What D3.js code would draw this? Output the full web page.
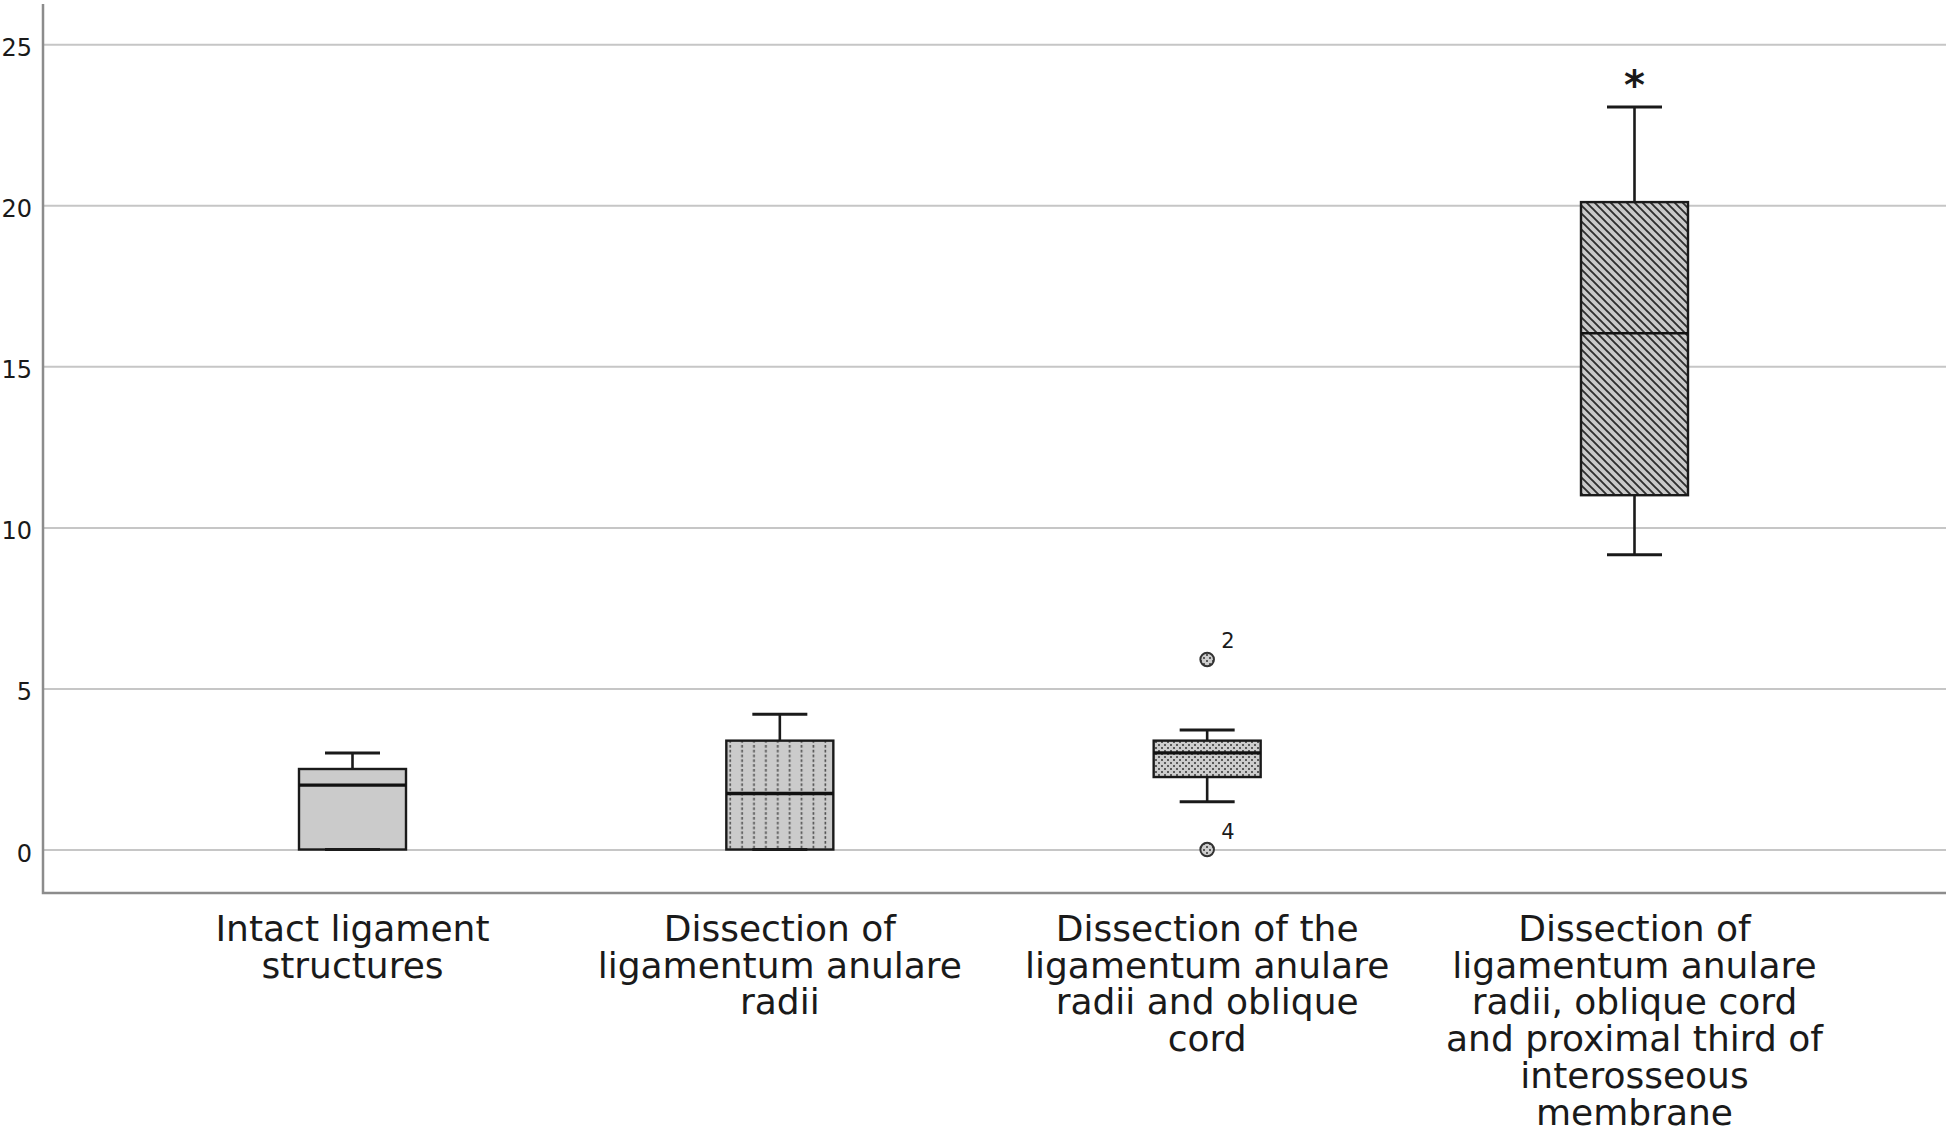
<!DOCTYPE html>
<html>
<head>
<meta charset="utf-8">
<script src="https://cdn.jsdelivr.net/npm/d3@7"></script>
<style>
    body { margin: 0; background: #ffffff; }
    text { font-family: "DejaVu Sans", sans-serif; fill: #1a1a1a; }
</style>
</head>
<body>
<div id="box-plot-container"></div>
<script>
/*
    boxplot of the four ligament dissection stages
 */

// data
var categories = [
    "Intact ligament structures",
    "Dissection of ligamentum anulare radii",
    "Dissection of the ligamentum anulare radii and oblique cord",
    "Dissection of ligamentum anulare radii, oblique cord and proximal third of interosseous membrane"
];

var category_lines = [
    ["Intact ligament", "structures"],
    ["Dissection of", "ligamentum anulare", "radii"],
    ["Dissection of the", "ligamentum anulare", "radii and oblique", "cord"],
    ["Dissection of", "ligamentum anulare", "radii, oblique cord", "and proximal third of", "interosseous", "membrane"]
];

var whisker_low  = [0,   0,    1.48, 9.15];
var q1_values    = [0,   0,    2.25, 11.0];
var median_values= [2.0, 1.74, 3.0,  16.03];
var q3_values    = [2.5, 3.38, 3.38, 20.1];
var whisker_high = [3.0, 4.2,  3.71, 23.05];

// circles = outliers, stars = extremes
var outlier_groups = [2, 2];
var outlier_values = [5.9, 0];
var outlier_labels = ["2", "4"];

var extreme_groups = [3];
var extreme_values = [23.95];

var y_ticks = [0, 5, 10, 15, 20, 25];


var svg_size = {
    'width': 1946,
    'height': 1133
};

var chart_option = {
    'plot': {
        'left': 43,
        'right': 1946,
        'top': 4,
        'bottom': 893
    },
    'first_center': 352.5,
    'last_center': 1634.5,
    'box_width': 107,
    'cap_width': 55,
    'label': {
        'first_baseline': 941,
        'line_height': 36.7,
        'font_size': 36
    }
};

// fill of each group, in order
var box_fills = ['url(#fill-solid)', 'url(#fill-dash)', 'url(#fill-dots)', 'url(#fill-diag)'];

var svg = d3.select("#box-plot-container")
    .append("svg")
    .attr('width', svg_size.width)
    .attr('height', svg_size.height);

// patterns
var defs = svg.append('defs');

var p_solid = defs.append('pattern')
    .attr('id', 'fill-solid')
    .attr('patternUnits', 'userSpaceOnUse')
    .attr('width', 4).attr('height', 4);
p_solid.append('rect').attr('width', 4).attr('height', 4).style('fill', '#cbcbcb');

var p_dash = defs.append('pattern')
    .attr('id', 'fill-dash')
    .attr('patternUnits', 'userSpaceOnUse')
    .attr('x', 3)
    .attr('width', 11.9).attr('height', 4.8);
p_dash.append('rect').attr('width', 11.9).attr('height', 4.8).style('fill', '#cbcbcb');
p_dash.append('rect').attr('x', 0.5).attr('y', 1).attr('width', 1.6).attr('height', 2.6).style('fill', '#4a4a4a');

var p_dots = defs.append('pattern')
    .attr('id', 'fill-dots')
    .attr('patternUnits', 'userSpaceOnUse')
    .attr('width', 6).attr('height', 6);
p_dots.append('rect').attr('width', 6).attr('height', 6).style('fill', '#cdcdcd');
p_dots.append('rect').attr('x', 0).attr('y', 0).attr('width', 2).attr('height', 2).style('fill', '#5a5a5a');
p_dots.append('rect').attr('x', 3).attr('y', 3).attr('width', 2).attr('height', 2).style('fill', '#5a5a5a');

var p_diag = defs.append('pattern')
    .attr('id', 'fill-diag')
    .attr('patternUnits', 'userSpaceOnUse')
    .attr('width', 8).attr('height', 8);
p_diag.append('rect').attr('width', 8).attr('height', 8).style('fill', '#c9c9c9');
p_diag.append('path')
    .attr('d', 'M-2,-2 L10,10 M-2,6 L2,10 M6,-2 L10,2')
    .style('stroke', '#2e2e2e')
    .style('stroke-width', 1.9);

// scales
var x_scale = d3.scalePoint()
    .domain(categories)
    .range([chart_option.first_center, chart_option.last_center]);

var y_scale = d3.scaleLinear()
    .domain([-1.35, 26.25])
    .range([chart_option.plot.bottom, chart_option.plot.top]);

// grid lines
var grid_axis = d3.axisLeft(y_scale)
    .tickValues(y_ticks)
    .tickFormat("")
    .tickSizeOuter(0)
    .tickSizeInner(-(chart_option.plot.right - chart_option.plot.left));

var grid_group = svg.append('g')
    .attr('transform', 'translate(' + chart_option.plot.left + ',0)')
    .call(grid_axis);
grid_group.select('.domain').remove();
grid_group.selectAll('.tick line')
    .style('stroke', '#c6c6c6')
    .style('stroke-width', 2);

// y tick labels, set a little below the grid line
svg.append('g')
    .selectAll('.y-label')
    .data(y_ticks)
    .enter()
    .append('text')
    .classed('y-label', true)
    .attr('x', 32)
    .attr('y', function(d){ return y_scale(d) + 4; })
    .attr('text-anchor', 'end')
    .attr('dominant-baseline', 'central')
    .style('font-size', '24px')
    .text(function(d){ return d; });

// axis frame
svg.append('path')
    .attr('d', 'M' + chart_option.plot.left + ',' + chart_option.plot.top +
        ' V' + chart_option.plot.bottom + ' H' + chart_option.plot.right)
    .style('fill', 'none')
    .style('stroke', '#8c8c8c')
    .style('stroke-width', 2.5);

// boxes
var box_group = svg.append('g');

var box_enter = box_group.selectAll('.box')
    .data(categories)
    .enter()
    .append('g')
    .classed('box', true);

// whisker stems
box_enter.append('line')
    .attr('x1', function(d){ return x_scale(d); })
    .attr('x2', function(d){ return x_scale(d); })
    .attr('y1', function(d, i){ return y_scale(whisker_high[i]); })
    .attr('y2', function(d, i){ return y_scale(whisker_low[i]); })
    .style('stroke', '#1a1a1a')
    .style('stroke-width', 2.6);

box_enter.append('rect')
    .attr('x', function(d){ return x_scale(d) - chart_option.box_width/2; })
    .attr('y', function(d, i){ return y_scale(q3_values[i]); })
    .attr('width', chart_option.box_width)
    .attr('height', function(d, i){ return y_scale(q1_values[i]) - y_scale(q3_values[i]); })
    .style('fill', function(d, i){ return box_fills[i]; })
    .style('stroke', '#1a1a1a')
    .style('stroke-width', 2.4);

box_enter.append('line')
    .attr('x1', function(d){ return x_scale(d) - chart_option.box_width/2; })
    .attr('x2', function(d){ return x_scale(d) + chart_option.box_width/2; })
    .attr('y1', function(d, i){ return y_scale(median_values[i]); })
    .attr('y2', function(d, i){ return y_scale(median_values[i]); })
    .style('stroke', '#111')
    .style('stroke-width', function(d, i){ return i == 3 ? 2.4 : 3.4; });

// caps
[whisker_high, whisker_low].forEach(function(values){
    box_enter.append('line')
        .attr('x1', function(d){ return x_scale(d) - chart_option.cap_width/2; })
        .attr('x2', function(d){ return x_scale(d) + chart_option.cap_width/2; })
        .attr('y1', function(d, i){ return y_scale(values[i]); })
        .attr('y2', function(d, i){ return y_scale(values[i]); })
        .style('stroke', '#1a1a1a')
        .style('stroke-width', 3);
});

// outliers
var outlier_enter = svg.append('g')
    .selectAll('.outlier')
    .data(outlier_values)
    .enter()
    .append('g')
    .classed('outlier', true);

outlier_enter.append('circle')
    .attr('cx', function(d, i){ return x_scale(categories[outlier_groups[i]]); })
    .attr('cy', function(d){ return y_scale(d); })
    .attr('r', 6.8)
    .style('fill', 'url(#fill-dots)')
    .style('stroke', '#333')
    .style('stroke-width', 2);

outlier_enter.append('text')
    .attr('x', function(d, i){ return x_scale(categories[outlier_groups[i]]) + 14; })
    .attr('y', function(d){ return y_scale(d) - 11; })
    .style('font-size', '21px')
    .text(function(d, i){ return outlier_labels[i]; });

// extremes
svg.append('g')
    .selectAll('.extreme')
    .data(extreme_values)
    .enter()
    .append('text')
    .classed('extreme', true)
    .attr('x', function(d, i){ return x_scale(categories[extreme_groups[i]]); })
    .attr('y', function(d){ return y_scale(d) + 21; })
    .attr('text-anchor', 'middle')
    .style('font-size', '40px')
    .style('font-weight', 'bold')
    .text('*');

// category labels
var label_enter = svg.append('g')
    .selectAll('.x-label')
    .data(categories)
    .enter()
    .append('text')
    .classed('x-label', true)
    .attr('text-anchor', 'middle')
    .style('font-size', chart_option.label.font_size + 'px');

label_enter.selectAll('tspan')
    .data(function(d, i){
        return category_lines[i].map(function(line){ return {'cat': d, 'line': line}; });
    })
    .enter()
    .append('tspan')
    .attr('x', function(d){ return x_scale(d.cat); })
    .attr('y', function(d, i){ return chart_option.label.first_baseline + i*chart_option.label.line_height; })
    .text(function(d){ return d.line; });
</script>
</body>
</html>
